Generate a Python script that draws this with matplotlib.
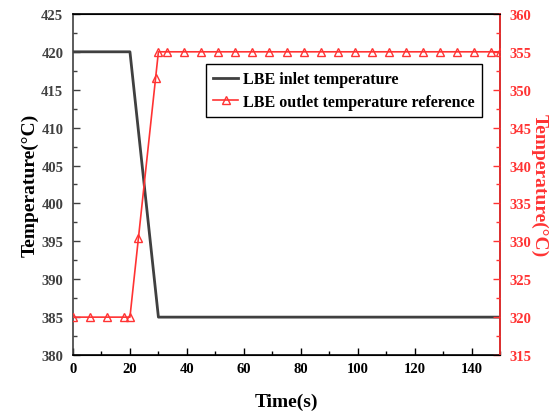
import numpy as np
import matplotlib
matplotlib.use("Agg")
import matplotlib.pyplot as plt
from matplotlib.ticker import MultipleLocator

# inlet temperature (left axis)
t_inlet = [0, 20, 30, 150]
T_inlet = [420, 420, 385, 385]

# outlet temperature reference (right axis)
t_outlet = [0, 6, 12, 18, 20, 23, 29, 30] + list(range(33, 148, 6)) + [150]
T_outlet = [320, 320, 320, 320, 320, 330.5, 351.5, 355] + [355] * len(range(33, 148, 6)) + [355]

plt.rcParams['font.family'] = ['Liberation Serif', 'DejaVu Serif']
plt.rcParams['font.weight'] = 'bold'

gray = '#404040'
red = '#ff3333'

fig = plt.figure(figsize=(5.51, 4.14), dpi=100)
ax = fig.add_axes([0.1325, 0.140, 0.775, 0.824])
ax2 = ax.twinx()

l1, = ax.plot(t_inlet, T_inlet, color=gray, lw=2.0, label='LBE inlet temperature')
l2, = ax2.plot(t_outlet, T_outlet, color=red, lw=1.2, marker='^', ms=6,
               mfc='none', mec=red, mew=1.0, label='LBE outlet temperature reference')

ax.set_xlim(0, 150)
ax.set_ylim(380, 425)
ax2.set_ylim(315, 360)

ax.xaxis.set_major_locator(MultipleLocator(20))
ax.xaxis.set_minor_locator(MultipleLocator(10))
ax.yaxis.set_major_locator(MultipleLocator(5))
ax.yaxis.set_minor_locator(MultipleLocator(2.5))
ax2.yaxis.set_major_locator(MultipleLocator(5))
ax2.yaxis.set_minor_locator(MultipleLocator(2.5))

ax.tick_params(axis='x', which='both', direction='in', top=False, labelsize=10.5, colors='black', pad=5)
ax.tick_params(axis='x', which='major', length=5, width=1)
ax.tick_params(axis='x', which='minor', length=3, width=1)
ax.tick_params(axis='y', which='both', direction='in', labelsize=10.5, colors=gray, pad=7)
ax.tick_params(axis='y', which='major', length=5, width=1)
ax.tick_params(axis='y', which='minor', length=3, width=1)
ax2.tick_params(axis='y', which='both', direction='in', labelsize=10.5, colors=red, pad=7)
ax2.tick_params(axis='y', which='major', length=5, width=1)
ax2.tick_params(axis='y', which='minor', length=3, width=1)

for lab in ax.get_xticklabels() + ax.get_yticklabels() + ax2.get_yticklabels():
    lab.set_fontweight('bold')

ax.spines['left'].set_color(gray)
ax.spines['bottom'].set_color('black')
ax.spines['top'].set_color('black')
ax2.spines['right'].set_color(red)
ax2.spines['left'].set_visible(False)
for s in ax.spines.values():
    s.set_linewidth(1.2)
ax2.spines['right'].set_linewidth(1.2)

ax.set_xlabel('Time(s)', fontsize=14, fontweight='bold', labelpad=13)
ax.set_ylabel('Temperature(°C)', fontsize=14, fontweight='bold', labelpad=2)
ax2.set_ylabel('Temperature(°C)', fontsize=14, fontweight='bold', color=red,
               rotation=270, labelpad=12)

leg = ax.legend([l1, l2], [l1.get_label(), l2.get_label()], loc='upper right',
                bbox_to_anchor=(0.958, 0.853), fontsize=11.5, handlelength=1.6,
                fancybox=False, edgecolor='black', framealpha=1,
                borderpad=0.45, labelspacing=0.4, handletextpad=0.3, borderaxespad=0)
leg.get_frame().set_linewidth(1.0)
for txt in leg.get_texts():
    txt.set_fontweight('bold')

fig.savefig('out.png', dpi=100)
